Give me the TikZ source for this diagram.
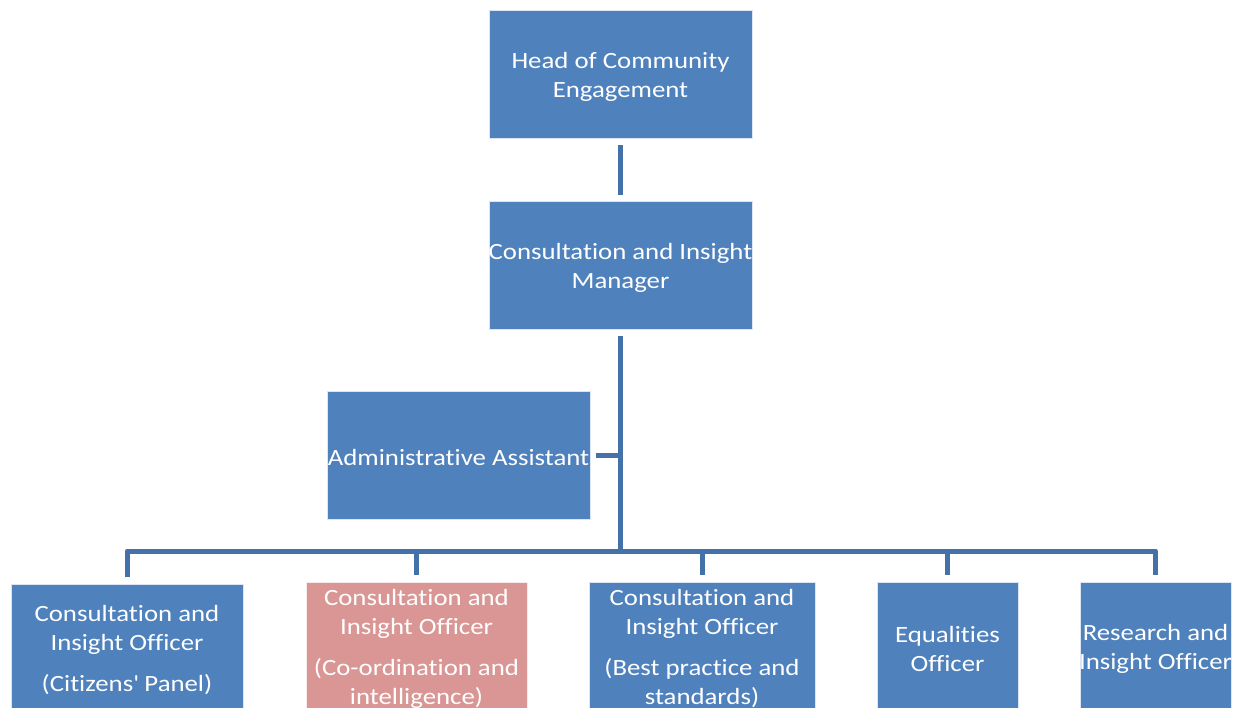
\documentclass[tikz,border=0pt]{standalone}
\usepackage{fontspec}
\setmainfont[FakeStretch=1.15, Ligatures=NoCommon]{Carlito}
\usetikzlibrary{calc}
\definecolor{boxblue}{HTML}{4F81BD}
\definecolor{boxpink}{HTML}{D99694}
\definecolor{linkblue}{HTML}{4471A8}
\begin{document}
\begin{tikzpicture}[x=1pt,y=-1pt,
  orgbox/.style={rectangle, fill=boxblue, draw=white!80!boxblue, line width=0.8pt,
    minimum height=128pt, inner sep=0pt},
  pinkbox/.style={orgbox, fill=boxpink, draw=white!80!boxpink},
  txt/.style={inner sep=0pt, align=center, text=white, yshift=-2.5pt,
    font=\fontsize{23.3}{29}\selectfont},
  link/.style={draw=linkblue, line width=5pt, line join=round}]
\useasboundingbox (0,0) rectangle (1241,707);
\node[orgbox, minimum width=263pt, label={[txt]center:{Head of Community\\Engagement}}] (head) at (620.5,74) {};
\node[orgbox, minimum width=263pt, label={[txt]center:{Consultation and Insight\\Manager}}] (mgr) at (620.5,265) {};
\node[orgbox, minimum width=263pt, label={[txt]center:{Administrative Assistant}}] (admin) at (458.5,455) {};
\node[orgbox, minimum width=232pt, label={[txt]center:{Consultation and\\Insight Officer\\[12pt](Citizens\textquotesingle\ Panel)}}] (b1) at (127,648) {};
\node[pinkbox, minimum width=221pt, label={[txt]center:{Consultation and\\Insight Officer\\[12pt](Co-ordination and\\intelligence)}}] (b2) at (416.5,646) {};
\node[orgbox, minimum width=226pt, label={[txt]center:{Consultation and\\Insight Officer\\[12pt](Best practice and\\standards)}}] (b3) at (702,646) {};
\node[orgbox, minimum width=141pt, label={[txt]center:{Equalities\\Officer}}] (b4) at (947.5,646) {};
\node[orgbox, minimum width=151pt, label={[txt]center:{Research and\\Insight Officer}}] (b5) at (1155.5,646) {};
\coordinate (bar) at (620.5,551);
\foreach \b in {b1,b2,b3,b4,b5}{\coordinate (d\b) at ($(\b.north)+(0,-7)$);}
\draw[link, shorten <=7pt, shorten >=6pt] (head.south) -- (mgr.north);
\draw[link, shorten <=7pt] (mgr.south) -- (bar);
\draw[link] (db1) |- (bar) -| (db5);
\draw[link] (db2) -- (db2 |- bar);
\draw[link] (db3) -- (db3 |- bar);
\draw[link] (db4) -- (db4 |- bar);
\draw[link, shorten <=6pt, shorten >=2pt] (admin.east) -- (admin.east -| mgr.south);
\end{tikzpicture}
\end{document}
